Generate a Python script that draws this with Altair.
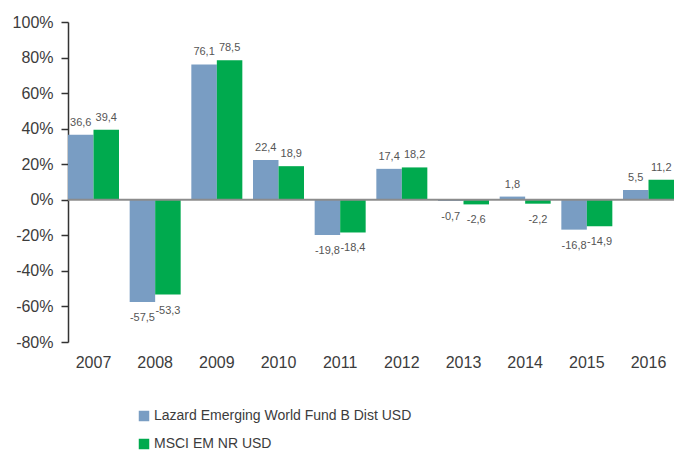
import altair as alt
import pandas as pd

years = ["2007", "2008", "2009", "2010", "2011", "2012", "2013", "2014", "2015", "2016"]
fund = [36.6, -57.5, 76.1, 22.4, -19.8, 17.4, -0.7, 1.8, -16.8, 5.5]
index = [39.4, -53.3, 78.5, 18.9, -18.4, 18.2, -2.6, -2.2, -14.9, 11.2]
series_names = ["Lazard Emerging World Fund B Dist USD", "MSCI EM NR USD"]
colors = ["#799dc3", "#00aa4e"]
y_ticks = [-80, -60, -40, -20, 0, 20, 40, 60, 80, 100]

rows = []
for name, vals in zip(series_names, [fund, index]):
    for y, v in zip(years, vals):
        rows.append({"year": y, "series": name, "value": v,
                     "label": f"{v:.1f}".replace(".", ",")})
df = pd.DataFrame(rows)

FONT = "Liberation Sans"
TXT = "#3c3c3c"

x_axis = alt.Axis(labelAngle=0, domain=False, ticks=False, labelPadding=12,
                  labelFontSize=16, labelColor=TXT, labelFont=FONT)
x_scale = alt.Scale(paddingInner=0.173, paddingOuter=0)
xo_enc = alt.XOffset("series:N", sort=series_names, scale=alt.Scale(paddingInner=0, paddingOuter=0))
y_scale = alt.Scale(domain=[-80, 100], nice=False, zero=False)
y_axis = alt.Axis(values=y_ticks, labelExpr="datum.value + '%'", grid=False,
                  labelOverlap=False, labelBound=False,
                  domainColor="#333333", domainWidth=1.5, tickColor="#333333",
                  tickSize=7, tickWidth=1.5, labelPadding=8,
                  labelFontSize=16, labelColor=TXT, labelFont=FONT)

base = alt.Chart(df)

bars = base.mark_bar().encode(
    x=alt.X("year:N", sort=years, title=None, scale=x_scale, axis=x_axis),
    xOffset=xo_enc,
    y=alt.Y("value:Q", title=None, scale=y_scale, axis=y_axis),
    color=alt.Color("series:N", sort=series_names,
                    scale=alt.Scale(domain=series_names, range=colors),
                    legend=alt.Legend(title=None, orient="none", legendX=69, legendY=387,
                                      direction="vertical", symbolType="square",
                                      symbolSize=110, symbolStrokeWidth=0,
                                      labelFontSize=14, labelColor=TXT, labelFont=FONT,
                                      labelLimit=0, labelOffset=3, rowPadding=14)),
)

zero = alt.Chart(pd.DataFrame({"value": [0]})).mark_rule(color="#8c8c8c", strokeWidth=2).encode(
    y=alt.Y("value:Q", title=None, scale=y_scale, axis=y_axis)
)

pos = base.transform_filter("datum.value >= 0").mark_text(
    baseline="alphabetic", dy=-9, fontSize=11, color="#555555", font=FONT
).encode(x=alt.X("year:N", sort=years, title=None, scale=x_scale, axis=x_axis),
         xOffset=xo_enc,
         y=alt.Y("value:Q", title=None, scale=y_scale, axis=y_axis), text="label:N")

neg = base.transform_filter("datum.value < 0").mark_text(
    baseline="top", dy=10, fontSize=11, color="#555555", font=FONT
).encode(x=alt.X("year:N", sort=years, title=None, scale=x_scale, axis=x_axis),
         xOffset=xo_enc,
         y=alt.Y("value:Q", title=None, scale=y_scale, axis=y_axis), text="label:N")

chart = alt.layer(bars, zero, pos, neg).properties(
    width=606, height=320,
    autosize=alt.AutoSizeParams(type="none"),
    padding={"left": 68, "top": 22, "right": 0, "bottom": 108},
    background="white",
).configure_view(stroke=None)

chart.save("out.html", embed_options={"renderer": "svg", "actions": False})
